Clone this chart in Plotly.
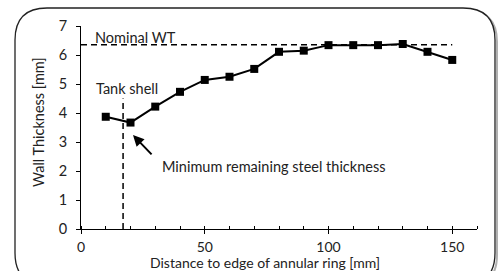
import plotly.graph_objects as go

# Data
distance_mm = [10, 20, 30, 40, 50, 60, 70, 80, 90, 100, 110, 120, 130, 140, 150]
wall_thickness_mm = [3.87, 3.67, 4.22, 4.73, 5.14, 5.25, 5.52, 6.11, 6.15, 6.34, 6.34, 6.34, 6.38, 6.11, 5.83]
nominal_wt = 6.35
nominal_x = [0, 150]
tank_shell_x = 17
tank_shell_y = [0, 4.5]
x_ticks = [0, 50, 100, 150]
y_ticks = [0, 1, 2, 3, 4, 5, 6, 7]

W, H = 502, 271
L, R, T, B = 81, 25, 26, 42
PW, PH = W - L - R, H - T - B

def px(xp):
    return (xp - L) / PW

def py(yp):
    return (H - B - yp) / PH

FONT = "Lato, 'Open Sans', sans-serif"
FS = 14.5
TC = "#222"

fig = go.Figure()

fig.add_trace(go.Scatter(x=nominal_x, y=[nominal_wt, nominal_wt], mode="lines",
                         line=dict(color="black", width=1.5, dash="6px,4px"),
                         hoverinfo="skip", showlegend=False))
fig.add_trace(go.Scatter(x=[tank_shell_x, tank_shell_x], y=tank_shell_y, mode="lines",
                         line=dict(color="black", width=1.5, dash="6px,4px"),
                         hoverinfo="skip", showlegend=False))
fig.add_trace(go.Scatter(x=distance_mm, y=wall_thickness_mm, mode="lines+markers",
                         line=dict(color="black", width=2),
                         marker=dict(symbol="square", size=8, color="black"),
                         showlegend=False))

# Rounded frame
def rrect(l, t, r, b, rad):
    return (f"M {px(l+rad)},{py(t)} L {px(r-rad)},{py(t)} Q {px(r)},{py(t)} {px(r)},{py(t+rad)} "
            f"L {px(r)},{py(b-rad)} Q {px(r)},{py(b)} {px(r-rad)},{py(b)} "
            f"L {px(l+rad)},{py(b)} Q {px(l)},{py(b)} {px(l)},{py(b-rad)} "
            f"L {px(l)},{py(t+rad)} Q {px(l)},{py(t)} {px(l+rad)},{py(t)} Z")

shapes = [
    dict(type="path", xref="paper", yref="paper", path=rrect(17, 10, 497, 287, 32),
         line=dict(color="#b0b0b0", width=2), layer="below"),
    dict(type="path", xref="paper", yref="paper", path=rrect(15, 8, 495, 285, 32),
         line=dict(color="#222", width=1.3), fillcolor="white", layer="below"),
]

C = dict(xanchor="center", yanchor="middle", showarrow=False)
annotations = [
    dict(x=22.2, y=6.62, text="Nominal WT", font=dict(size=FS, color=TC), **C),
    dict(x=18.6, y=4.86, text="Tank shell", font=dict(size=FS, color=TC), **C),
    dict(x=77.8, y=2.17, text="Minimum remaining steel thickness", font=dict(size=FS, color=TC), **C),
    dict(x=21, y=3.24, ax=29.1, ay=2.52, axref="x", ayref="y", text="", showarrow=True,
         arrowhead=2, arrowsize=1.1, arrowwidth=2, arrowcolor="black"),
    dict(x=px(265), y=py(262), xref="paper", yref="paper", text="Distance to edge of annular ring [mm]",
         font=dict(size=14, color=TC), **C),
    dict(x=px(38), y=py(122), xref="paper", yref="paper", text="Wall Thickness [mm]", textangle=-90,
         font=dict(size=FS, color=TC), **C),
]

fig.update_layout(
    template="none",
    width=W, height=H, margin=dict(l=L, r=R, t=T, b=B, pad=0, autoexpand=False),
    paper_bgcolor="white", plot_bgcolor="rgba(0,0,0,0)",
    font=dict(family=FONT, size=FS, color=TC),
    shapes=shapes, annotations=annotations,
    xaxis=dict(range=[0, 160], tickvals=x_ticks, ticks="outside", ticklen=4, tickcolor="black",
               showline=True, linecolor="black", linewidth=1, showgrid=False, zeroline=False,
               automargin=False,
               minor=dict(dtick=10, tick0=0, ticks="inside", ticklen=3, tickcolor="black", showgrid=False),
               tickfont=dict(size=14, color=TC), ticklabelstandoff=1),
    yaxis=dict(range=[0, 7], tickvals=y_ticks, ticks="outside", ticklen=4, tickcolor="black",
               showline=True, linecolor="black", linewidth=1, showgrid=False, zeroline=False,
               automargin=False,
               tickfont=dict(size=FS, color=TC), ticklabelstandoff=6),
)

fig.write_html("out.html", config={"displayModeBar": False},
               post_script="document.body.style.margin='0px';document.body.style.overflow='hidden';")
